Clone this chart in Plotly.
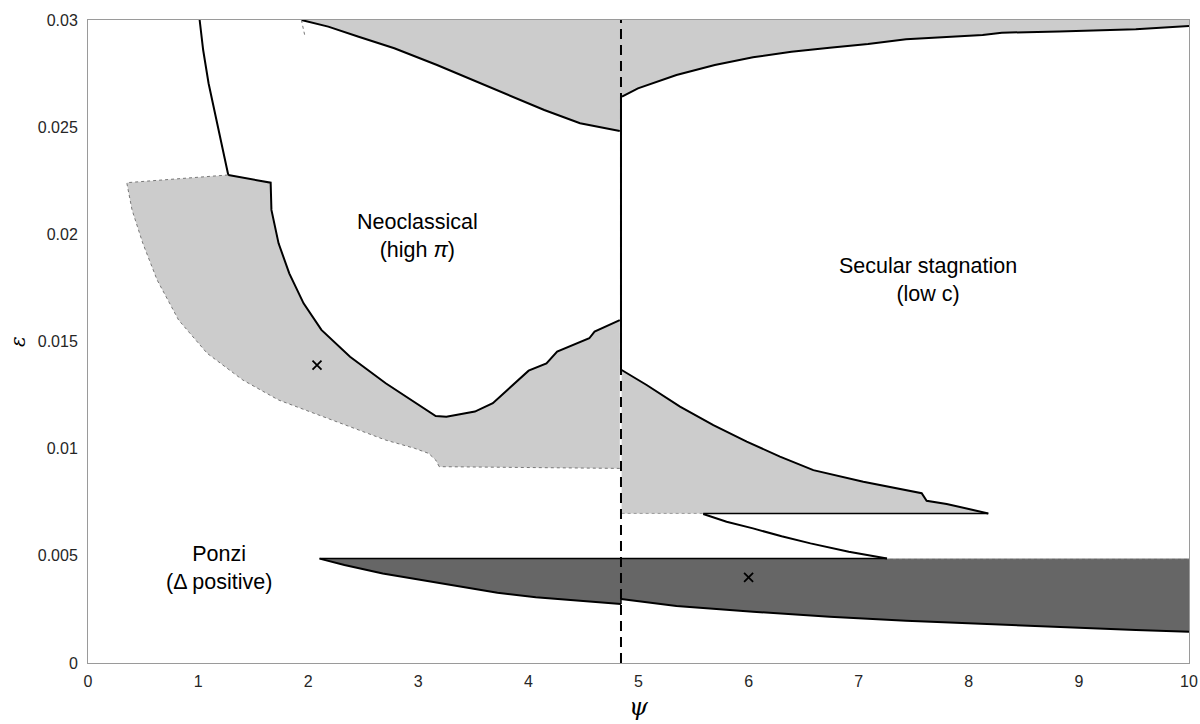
import plotly.graph_objects as go

# ---------------- data ----------------
# upper light-gray region, left part (lower boundary line)
top_left_x = [1.938, 2.182, 2.458, 2.782, 3.17, 3.496, 3.82, 4.144, 4.469, 4.83]
top_left_y = [0.0300, 0.02969, 0.02922, 0.02868, 0.0279, 0.0272, 0.0265, 0.0258, 0.02518, 0.02482]
# upper light-gray region, right part (lower boundary curve)
top_right_x = [4.85, 4.995, 5.345, 5.693, 6.04, 6.389, 6.736, 7.085, 7.43, 7.779, 8.126, 8.3, 8.82, 9.517, 10.0]
top_right_y = [0.02642, 0.02681, 0.02743, 0.0279, 0.02826, 0.02852, 0.02871, 0.02888, 0.0291, 0.02919,
               0.0293, 0.02941, 0.02946, 0.02957, 0.02972]

# steep boundary in upper left
steep_x = [1.014, 1.046, 1.095, 1.16, 1.225, 1.274]
steep_y = [0.0300, 0.0286, 0.02705, 0.02549, 0.02393, 0.02277]

# left light-gray region: inner (solid) boundary
left_inner_x = [1.274, 1.659, 1.666, 1.731, 1.828, 1.958, 2.12, 2.38, 2.704, 3.158, 3.255, 3.514,
                3.677, 3.839, 4.002, 4.164, 4.261, 4.553, 4.601, 4.83]
left_inner_y = [0.02277, 0.02241, 0.02114, 0.01958, 0.01818, 0.01678, 0.01554, 0.01429, 0.01305,
                0.01152, 0.01149, 0.01173, 0.01212, 0.01289, 0.01364, 0.01398, 0.01453, 0.01515,
                0.01546, 0.01600]
# left light-gray region: outer (dotted) boundary
left_outer_x = [4.83, 3.19, 3.158, 3.094, 2.964, 2.704, 2.38, 2.055, 1.731, 1.407, 1.082, 0.823,
                0.628, 0.498, 0.40, 0.352, 1.274]
left_outer_y = [0.00908, 0.00916, 0.00947, 0.00978, 0.01002, 0.0104, 0.01103, 0.01165, 0.01227,
                0.0132, 0.01445, 0.016, 0.01787, 0.01958, 0.02114, 0.02241, 0.02277]

# right light-gray region: upper boundary
right_top_x = [4.847, 5.074, 5.377, 5.68, 5.983, 6.285, 6.588, 7.042, 7.572, 7.617, 7.799, 8.177]
right_top_y = [0.01367, 0.01297, 0.01196, 0.0111, 0.01033, 0.00963, 0.009, 0.00846, 0.00792,
               0.00757, 0.00742, 0.00698]
right_floor = 0.00698
right_floor_solid_from = 5.588

# curve between right gray region and dark region
mid_curve_x = [5.588, 5.8, 6.04, 6.3, 6.562, 6.91, 7.257]
mid_curve_y = [0.00695, 0.00659, 0.00628, 0.00591, 0.00558, 0.00519, 0.00488]

# dark region
dark_top = 0.00487
dark_left_x = [2.103, 2.329, 2.677, 3.025, 3.372, 3.719, 4.067, 4.65, 4.841]
dark_left_y = [0.00487, 0.00457, 0.00418, 0.00387, 0.00356, 0.00328, 0.00307, 0.00284, 0.00275]
dark_right_x = [4.841, 5.345, 6.04, 6.736, 7.43, 8.126, 8.82, 9.517, 10.0]
dark_right_y = [0.00299, 0.00266, 0.00239, 0.00216, 0.00197, 0.00182, 0.00167, 0.00154, 0.00146]

psi_threshold = 4.841

mark_x = [2.08, 6.0]
mark_y = [0.0139, 0.0040]

labels = ["Neoclassical<br>(high <i>π</i>)", "Secular stagnation<br>(low c)", "Ponzi<br>(Δ positive)"]
label_x = [2.99, 7.63, 1.19]
label_y = [0.01992, 0.01787, 0.00441]

x_ticks = list(range(0, 11))
y_ticks = [0, 0.005, 0.01, 0.015, 0.02, 0.025, 0.03]
y_tick_text = ["0", "0.005", "0.01", "0.015", "0.02", "0.025", "0.03"]

# ---------------- figure ----------------
LIGHT = "#cccccc"
DARK = "#666666"
fig = go.Figure()

def poly(xs, ys, color):
    fig.add_trace(go.Scatter(x=xs, y=ys, mode="lines", fill="toself", fillcolor=color,
                             line=dict(width=0, color=color), hoverinfo="skip", showlegend=False))

def line(xs, ys, color="black", width=2, dash="solid"):
    fig.add_trace(go.Scatter(x=xs, y=ys, mode="lines", line=dict(color=color, width=width, dash=dash),
                             hoverinfo="skip", showlegend=False))

# fills
poly(top_left_x + [top_right_x[0]] + top_right_x + [10.0, top_left_x[0]],
     top_left_y + [top_right_y[0]] + top_right_y + [0.03, 0.03], LIGHT)
poly(left_inner_x + left_outer_x, left_inner_y + left_outer_y, LIGHT)
poly(right_top_x + [right_top_x[0]], right_top_y + [right_floor], LIGHT)
poly(dark_left_x + dark_right_x + [10.0, dark_left_x[0]],
     dark_left_y + dark_right_y + [dark_top, dark_top], DARK)

# boundary lines
line(top_left_x, top_left_y)
line(top_right_x, top_right_y)
line([top_left_x[0], top_left_x[0] + 0.03], [0.0300, 0.0293], color="#777777", width=1, dash="dot")
line(steep_x, steep_y)
line(left_inner_x, left_inner_y)
line(left_outer_x[1:], left_outer_y[1:], color="#777777", width=1, dash="dot")
line(left_outer_x[:2], left_outer_y[:2], color="#777777", width=1, dash="dot")
line([psi_threshold, psi_threshold], [top_right_y[0], right_top_y[0]], width=2)
line(right_top_x, right_top_y)
line([right_top_x[0], right_floor_solid_from], [right_floor, right_floor], color="#999999", width=1, dash="dot")
line([right_floor_solid_from, right_top_x[-1]], [right_floor, right_floor], width=1.5)
line(mid_curve_x, mid_curve_y)
line([dark_left_x[0], mid_curve_x[-1]], [dark_top, dark_top], width=1.5)
line([mid_curve_x[-1], 10.0], [dark_top, dark_top], color="#bbbbbb", width=1, dash="dot")
line(dark_left_x, dark_left_y)
line(dark_right_x, dark_right_y)
line([psi_threshold, psi_threshold], [dark_left_y[-1], dark_right_y[0]], width=1.5)

# dashed threshold
line([psi_threshold, psi_threshold], [0, 0.03], width=2, dash="10px,6px")

# markers
fig.add_trace(go.Scatter(x=mark_x, y=mark_y, mode="markers",
                         marker=dict(symbol="x-thin", size=9, line=dict(width=1.8, color="black")),
                         hoverinfo="skip", showlegend=False))

for t, xx, yy in zip(labels, label_x, label_y):
    fig.add_annotation(x=xx, y=yy, text=t, showarrow=False,
                       font=dict(family="Liberation Sans, Arial", size=21.5, color="black"))

# axis titles
fig.add_annotation(x=0.5, y=-0.068, xref="paper", yref="paper", text="<i>ψ</i>", showarrow=False,
                   yanchor="middle", font=dict(family="DejaVu Serif", size=24, color="black"))
fig.add_annotation(x=-0.064, y=0.5, xref="paper", yref="paper", text="<i>ε</i>", showarrow=False,
                   textangle=-90, xanchor="center", font=dict(family="DejaVu Serif", size=20, color="black"))

fig.update_layout(
    width=1200, height=724,
    margin=dict(l=88, r=11, t=20, b=61),
    plot_bgcolor="white", paper_bgcolor="white",
    font=dict(family="Liberation Sans, Arial", size=16, color="#262626"),
    showlegend=False,
)
fig.update_xaxes(range=[0, 10], tickvals=x_ticks, showgrid=False, zeroline=False, automargin=False,
                 showline=True, mirror=True, linecolor="#9a9a9a", linewidth=1, ticks="",
                 ticklabelstandoff=4)
fig.update_yaxes(range=[0, 0.03], tickvals=y_ticks, ticktext=y_tick_text, showgrid=False, zeroline=False,
                 automargin=False,
                 showline=True, mirror=True, linecolor="#9a9a9a", linewidth=1, ticks="",
                 ticklabelstandoff=6)

fig.write_html("out.html", config={"displayModeBar": False},
               post_script="document.body.style.margin='0';document.body.style.overflow='hidden';")
